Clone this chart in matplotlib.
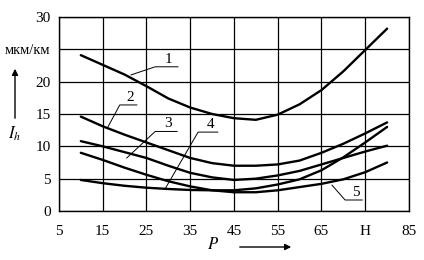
import numpy as np
import matplotlib.pyplot as plt

# --------------------
# Data
# --------------------
P = [10, 15, 20, 25, 30, 35, 40, 45, 50, 55, 60, 65, 70, 75, 80]

ih_1 = [24.1, 22.6, 21.1, 19.3, 17.4, 16.0, 15.0, 14.35, 14.1, 14.9, 16.5, 18.7, 21.6, 24.9, 28.2]
ih_2 = [14.6, 13.1, 11.8, 10.6, 9.4, 8.2, 7.4, 7.0, 7.0, 7.2, 7.8, 9.0, 10.4, 12.0, 13.7]
ih_3 = [10.8, 10.0, 9.1, 8.2, 7.0, 5.9, 5.2, 4.8, 5.0, 5.5, 6.2, 7.2, 8.2, 9.2, 10.1]
ih_4 = [4.8, 4.3, 3.9, 3.6, 3.4, 3.25, 3.2, 3.2, 3.5, 4.1, 4.9, 6.3, 8.3, 10.6, 13.0]
ih_5 = [9.0, 7.9, 6.7, 5.6, 4.6, 3.8, 3.2, 2.9, 2.9, 3.2, 3.7, 4.2, 4.9, 6.0, 7.5]

x_ticks = [5, 15, 25, 35, 45, 55, 65, 75, 85]
x_labels = ["5", "15", "25", "35", "45", "55", "65", "H", "85"]
y_ticks = [0, 5, 10, 15, 20, 25, 30]
y_labels = ["0", "5", "10", "15", "20", "мкм/км", "30"]

# curve labels: name, point on curve, elbow, end of shelf
leaders = [
    ("1", (21.5, 21.05), (27.0, 22.3), (32.2, 22.3)),
    ("2", (16.2, 13.0), (18.9, 16.4), (22.8, 16.4)),
    ("3", (20.5, 8.2), (27.0, 12.3), (32.0, 12.3)),
    ("4", (29.2, 3.35), (36.8, 12.2), (41.3, 12.2)),
    ("5", (67.4, 4.0), (70.4, 1.7), (74.3, 1.7)),
]

# --------------------
# Plot
# --------------------
plt.rcParams['font.family'] = ['Liberation Serif', 'DejaVu Serif']
plt.rcParams['mathtext.fontset'] = 'stix'

fig = plt.figure(figsize=(4.24, 2.6), dpi=100)
ax = fig.add_axes([0.139, 0.1885, 0.8256, 0.7461])

for ih in (ih_1, ih_2, ih_3, ih_4, ih_5):
    ax.plot(P, ih, color="black", lw=1.7, solid_capstyle="round", solid_joinstyle="round")

for name, p0, p1, p2 in leaders:
    ax.plot([p0[0], p1[0], p2[0]], [p0[1], p1[1], p2[1]], color="black", lw=0.7)
    ax.text((p1[0] + p2[0]) / 2 + 0.5, p1[1] + 0.2, name, ha="center", va="bottom", fontsize=11)

ax.set_xlim(5, 85)
ax.set_ylim(0, 30)
ax.set_xticks(x_ticks)
ax.set_xticklabels(x_labels)
ax.set_yticks(y_ticks)
ax.set_yticklabels(y_labels)
ax.tick_params(length=0, labelsize=11, colors="black")
ax.tick_params(axis="x", pad=10)
ax.tick_params(axis="y", pad=6)
ax.get_yticklabels()[5].set_fontsize(10.5)
ax.grid(True, color="black", lw=0.9)
for s in ax.spines.values():
    s.set_linewidth(1.0)

# axis names with arrows
fig.text(15 / 424, 1 - 134 / 260, "$I_h$", ha="center", va="center", fontsize=12)
ax.annotate("", xy=(15 / 424, 1 - 66 / 260), xytext=(15 / 424, 1 - 121 / 260),
            xycoords="figure fraction",
            arrowprops=dict(arrowstyle="-|>", color="black", lw=1.0, mutation_scale=9))
fig.text(213 / 424, 1 - 245 / 260, "$P$", ha="center", va="center", fontsize=12)
ax.annotate("", xy=(294 / 424, 1 - 247 / 260), xytext=(237 / 424, 1 - 247 / 260),
            xycoords="figure fraction",
            arrowprops=dict(arrowstyle="-|>", color="black", lw=1.0, mutation_scale=9))

plt.savefig("out.png", dpi=100)
